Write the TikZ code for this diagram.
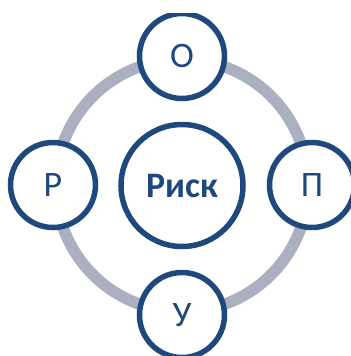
\documentclass[tikz,border=0pt]{standalone}
\usepackage{fontspec}
\setmainfont{Carlito}
\usetikzlibrary{backgrounds}
\definecolor{navy}{HTML}{1F497D}
\definecolor{ringgrey}{HTML}{AAB0BF}
\tikzset{
  x=1bp,y=-1bp,
  small/.style={circle,draw=navy,line width=5.5bp,fill=white,minimum size=85bp,inner sep=0pt,text=navy,font=\fontsize{36}{36}\selectfont},
  big/.style={circle,draw=navy,line width=5.5bp,fill=white,minimum size=122bp,inner sep=0pt,text=navy,font=\fontsize{36}{36}\selectfont\bfseries},
  ring/.style={draw=ringgrey,line width=11.5bp}
}
\begin{document}
\begin{tikzpicture}
\useasboundingbox (0,0) rectangle (351,356);
\clip (0,13) rectangle (351,356);
\node[big] (K) at (182,185.5) {Риск};
\node[small] (O) at (182,56) {О};
\node[small] (P) at (312,185) {П};
\node[small] (U) at (182,315) {У};
\node[small] (R) at (53,185) {Р};
\coordinate (rO) at (182,59.5);
\coordinate (rP) at (308,185.5);
\coordinate (rU) at (182,311.5);
\coordinate (rR) at (56,185.5);
\begin{pgfonlayer}{background}
\draw[ring] (rO) to[out=180,in=90] (rR);
\draw[ring] (rR) to[out=-90,in=180] (rU);
\draw[ring] (rU) to[out=0,in=-90] (rP);
\draw[ring] (rP) to[out=90,in=0] (rO);
\end{pgfonlayer}
\end{tikzpicture}
\end{document}
